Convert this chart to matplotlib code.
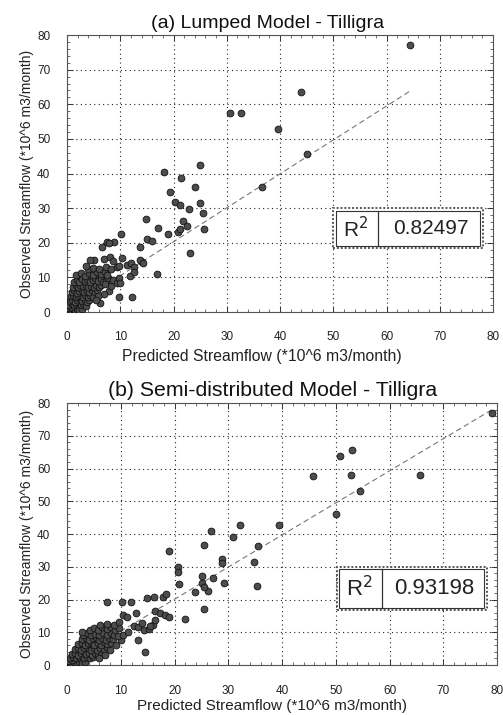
import matplotlib
matplotlib.use("Agg")
import matplotlib.pyplot as plt
from matplotlib.patches import Rectangle
from matplotlib.ticker import MultipleLocator

plt.rcParams['font.family'] = ['Liberation Sans', 'DejaVu Sans']

# ---------------- data ----------------
titles = ["(a) Lumped Model - Tilligra", "(b) Semi-distributed Model - Tilligra"]
xlabel = "Predicted Streamflow (*10^6 m3/month)"
ylabel = "Observed Streamflow (*10^6 m3/month)"
r2_values = ["0.82497", "0.93198"]
ticks = [0, 10, 20, 30, 40, 50, 60, 70, 80]

# panel (a): predicted, observed
a_pred = [0.2, 0.5, 0.8, 1.1, 1.5, 1.9, 2.3, 2.8, 0.3, 0.7,
          0.4, 0.9, 1.3, 1.7, 2.1, 2.6, 3.0, 3.5,
          0.6, 1.0, 1.5, 1.9, 2.4, 2.8, 3.3, 3.8, 4.2,
          0.8, 1.2, 1.6, 2.1, 2.5, 3.0, 3.4, 3.9, 4.4, 4.9,
          1.0, 1.4, 1.9, 2.3, 2.8, 3.2, 3.7, 4.2, 4.7, 5.2, 5.6,
          1.1, 1.6, 2.1, 2.5, 3.0, 3.5, 4.0, 4.5, 5.0, 5.5, 6.0, 6.4,
          1.3, 1.8, 2.3, 2.8, 3.3, 3.8, 4.3, 4.8, 5.3, 5.8, 6.3, 6.8, 7.3, 7.7,
          1.6, 2.6, 3.4, 4.1, 4.9, 5.6, 6.4, 7.1, 7.6,
          4.0, 4.9, 6.0, 7.3, 8.3, 5.0, 3.6,
          7.8, 8.3, 6.9, 5.8, 7.2, 8.6, 9.4, 9.8, 9.7, 12.2, 6.2, 5.4,
          10.3, 11.3, 12.0, 12.5, 14.0, 13.7, 14.2, 16.9, 9.3, 9.8, 4.4, 7.0, 8.0, 8.7,
          6.6, 7.5, 8.8, 7.8, 10.1, 13.7, 15.1, 15.9, 14.8, 17.0, 19.0, 20.8, 21.2,
          21.7, 22.6, 25.7, 23.1, 23.0, 25.6, 25.0, 20.3, 21.3, 19.3, 24.0, 36.6,
          21.5, 18.2, 25.0, 39.7, 45.1, 30.6, 32.6, 43.9, 64.5, 11.8, 12.5, 10.0]
a_obs = [0.3, 0.6, 0.4, 0.9, 0.5, 0.8, 0.6, 1.0, 1.2, 1.5,
         2.1, 2.4, 1.9, 2.2, 2.6, 2.0, 2.4, 1.8,
         3.2, 3.6, 3.0, 3.4, 3.8, 3.1, 3.5, 3.0, 3.4,
         4.5, 4.9, 4.2, 4.6, 5.0, 4.3, 4.8, 4.4, 4.9, 4.3,
         5.8, 6.3, 5.6, 6.1, 6.5, 5.7, 6.2, 5.8, 6.4, 5.9, 6.3,
         7.2, 7.7, 7.1, 7.9, 7.4, 7.8, 7.1, 7.6, 7.2, 7.9, 7.3, 7.7,
         8.8, 9.3, 8.6, 9.6, 9.0, 9.5, 8.7, 9.2, 9.7, 8.9, 9.4, 8.6, 9.1, 9.8,
         10.7, 11.2, 10.5, 11.4, 10.8, 11.6, 10.9, 11.5, 10.6,
         12.5, 12.8, 12.3, 12.9, 12.4, 15.0, 13.3,
         6.0, 7.5, 5.2, 4.6, 8.2, 9.2, 8.3, 9.8, 4.4, 4.3, 2.5, 3.5,
         15.6, 13.5, 14.2, 13.0, 14.5, 15.0, 14.1, 10.9, 13.0, 13.3, 15.0, 15.3, 15.8, 14.8,
         18.9, 20.3, 20.3, 19.8, 22.5, 18.7, 21.0, 20.6, 26.8, 24.2, 22.4, 23.2, 23.9,
         26.4, 24.8, 23.9, 17.1, 29.7, 28.7, 31.4, 31.9, 30.9, 34.7, 36.2, 36.0,
         38.8, 40.5, 42.5, 52.8, 45.5, 57.6, 57.4, 63.6, 77.0, 10.4, 11.6, 8.3]

# panel (b): predicted, observed
b_pred = [0.2, 0.5, 0.9, 1.3, 1.8, 2.3, 2.8, 3.3, 0.4, 1.0,
          0.6, 1.2, 1.7, 2.2, 2.7, 3.2, 3.8, 4.3, 4.8,
          0.9, 1.5, 2.0, 2.6, 3.1, 3.6, 4.1, 4.7, 5.2, 5.8, 6.3,
          1.4, 2.0, 2.6, 3.2, 3.8, 4.4, 5.0, 5.6, 6.2, 6.8, 7.4,
          2.0, 2.7, 3.3, 3.9, 4.5, 5.1, 5.7, 6.3, 6.9, 7.5, 8.1,
          2.8, 3.5, 4.1, 4.8, 5.4, 6.0, 6.6, 7.2, 7.9, 8.5,
          3.0, 3.8, 4.5, 5.3, 6.0, 6.7, 7.4, 8.1, 8.8,
          2.8, 4.3, 5.0, 5.8, 6.6, 7.4, 8.2, 9.0, 9.6, 6.2, 7.5, 8.8, 9.6,
          7.0, 8.0, 9.2, 10.0, 9.5, 10.5, 11.4, 5.9,
          10.5, 11.1, 12.8, 12.4, 13.2, 14.3, 15.2, 16.0, 16.4, 13.3, 14.6, 14.0, 15.5,
          16.4, 17.3, 18.2, 18.9, 22.0, 25.5,
          7.5, 10.2, 11.9, 14.9, 16.1, 17.8, 18.4,
          23.8, 26.3, 25.1, 25.5, 20.9, 29.2, 35.3, 27.2, 25.1, 20.7, 20.7, 28.9, 28.9,
          34.8, 18.9, 25.4, 35.6, 30.8, 26.7, 32.1, 39.4, 50.0, 54.5, 45.7, 52.8, 65.6,
          50.8, 53.0, 79.0]
b_obs = [0.3, 0.7, 0.4, 0.8, 0.5, 0.9, 0.6, 1.0, 1.3, 1.6,
         2.2, 2.5, 2.0, 2.4, 2.8, 2.1, 2.5, 2.0, 2.6,
         3.4, 3.8, 3.2, 3.6, 4.0, 3.3, 3.7, 3.2, 3.8, 3.3, 3.9,
         4.8, 5.3, 4.6, 5.1, 5.5, 4.7, 5.2, 4.6, 5.3, 4.8, 5.4,
         6.3, 6.8, 6.1, 6.6, 7.0, 6.2, 6.7, 6.2, 6.9, 6.4, 6.8,
         7.8, 8.3, 7.6, 8.1, 8.5, 7.7, 8.2, 7.6, 8.4, 7.9,
         9.3, 9.8, 9.1, 9.6, 9.2, 9.9, 9.3, 9.7, 9.1,
         10.0, 10.8, 11.3, 10.6, 11.5, 10.9, 11.6, 10.8, 11.4, 12.3, 12.6, 12.2, 13.0,
         3.0, 4.5, 6.0, 7.5, 8.8, 9.3, 10.2, 2.2,
         15.2, 14.8, 16.0, 12.0, 11.5, 10.7, 10.9, 12.3, 13.6, 7.6, 4.1, 12.8, 12.0,
         16.6, 16.0, 15.3, 14.6, 14.0, 17.1,
         19.2, 19.1, 19.1, 20.4, 20.7, 20.9, 21.7,
         22.4, 22.7, 24.9, 23.9, 24.7, 24.9, 24.1, 26.5, 27.2, 29.8, 28.5, 32.3, 31.1,
         31.5, 34.9, 36.6, 36.3, 39.2, 40.9, 42.7, 42.7, 46.0, 53.2, 57.8, 58.0, 58.0,
         63.9, 65.6, 77.0]

# fitted lines: slope, intercept, x-range
fit_a = (0.98, 0.7, 0.0, 64.5)
fit_b = (0.98, 0.5, 0.0, 79.0)

# ---------------- drawing ----------------
fig = plt.figure(figsize=(5.03, 7.15), dpi=100)
ax_a = fig.add_axes([0.1332, 0.5636, 0.847, 0.3874])
ax_b = fig.add_axes([0.1332, 0.0699, 0.855, 0.3664])

panels = [
    dict(ax=ax_a, xp=a_pred, yo=a_obs, fit=fit_a, r2=r2_values[0], title=titles[0],
         box=(0.625, 0.23, 0.351, 0.144), div=0.731, tsize=14, tx=0.47,
         xpad=13.5, xlab=(0.458, -0.134), ylab=(-0.077, 0.5), r2size=15,
         xlsize=11.3),
    dict(ax=ax_b, xp=b_pred, yo=b_obs, fit=fit_b, r2=r2_values[1], title=titles[1],
         box=(0.627, 0.21, 0.349, 0.165), div=0.732, tsize=15.3, tx=0.478,
         xpad=14.5, xlab=(0.477, -0.128), ylab=(-0.0767, 0.5), r2size=16,
         xlsize=11),
]

for p in panels:
    ax = p['ax']
    ax.set_xlim(0, 80)
    ax.set_ylim(0, 80)
    ax.set_xticks(ticks)
    ax.set_yticks(ticks)
    ax.xaxis.set_minor_locator(MultipleLocator(2))
    ax.yaxis.set_minor_locator(MultipleLocator(2))
    ax.tick_params(which='both', direction='in', top=True, right=True,
                   colors='#333333', labelcolor='#222222', labelsize=8.5)
    ax.tick_params(which='major', length=4, width=0.7)
    ax.tick_params(which='minor', length=2, width=0.5)
    ax.tick_params(axis='x', pad=p['xpad'])
    ax.tick_params(axis='y', pad=12)
    ax.grid(True, which='major', linestyle=(0, (1, 3)), color='#222222', linewidth=0.8)
    for s in ax.spines.values():
        s.set_color('#555555')
        s.set_linewidth(0.8)

    m, c, x0, x1 = p['fit']
    ax.plot([x0, x1], [m * x0 + c, m * x1 + c], linestyle=(0, (5, 3)),
            color='#777777', linewidth=0.8, zorder=2)
    ax.scatter(p['xp'], p['yo'], s=24, facecolor='#4d4d4d', edgecolor='#111111',
               linewidth=0.6, zorder=3)

    t = ax.set_title(p['title'], fontsize=p['tsize'], color='#111111', pad=5)
    t.set_x(p['tx'])
    ax.set_xlabel(xlabel, fontsize=p['xlsize'], color='#222222')
    ax.xaxis.set_label_coords(*p['xlab'])
    ax.set_ylabel(ylabel, fontsize=10, color='#222222')
    ax.yaxis.set_label_coords(*p['ylab'])

    bx, by, bw, bh = p['box']
    div = p['div']
    ax.add_patch(Rectangle((bx, by), bw, bh, transform=ax.transAxes,
                           facecolor='white', edgecolor='#555555',
                           linestyle=(0, (1, 1)), linewidth=1.4, zorder=5))
    ax.add_patch(Rectangle((bx + 0.006, by + 0.008), bw - 0.012, bh - 0.016,
                           transform=ax.transAxes, facecolor='white',
                           edgecolor='#333333', linewidth=0.8, zorder=6))
    ax.plot([div, div], [by + 0.008, by + bh - 0.008], transform=ax.transAxes,
            color='#333333', linewidth=0.9, zorder=7)
    ax.text((bx + div) / 2, by + bh / 2, r'R$^2$', transform=ax.transAxes,
            ha='center', va='center', fontsize=p['r2size'], color='#222222', zorder=8)
    ax.text((div + bx + bw) / 2, by + bh / 2, p['r2'], transform=ax.transAxes,
            ha='center', va='center', fontsize=p['r2size'], color='#222222', zorder=8)

fig.savefig("out.png", dpi=100)
